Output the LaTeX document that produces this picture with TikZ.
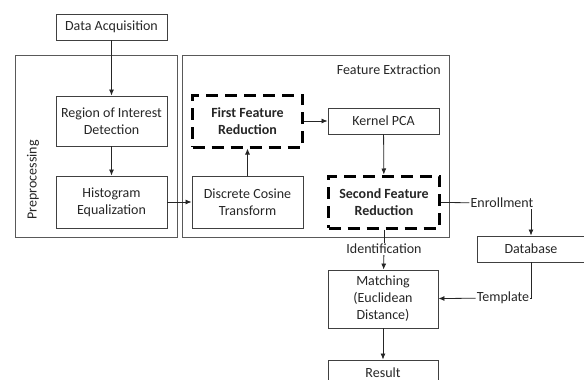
\documentclass[tikz,border=0pt]{standalone}
\usepackage{fontspec}
\setmainfont{Carlito}
\usetikzlibrary{arrows.meta}
\newcommand\colorBox{black!75}
\newcommand\colorFrame{black!65}
\newcommand\colorText{black!85}
\newcommand\diagramFont{\fontsize{14}{17}\selectfont}
\tikzset{
	block/.style={draw=\colorBox, line width=0.9pt, text=\colorText, align=center,
		minimum width=111pt, inner sep=1pt, font=\diagramFont},
	dashblock/.style={block, draw=black, line width=3pt, dash pattern=on 12pt off 7pt,
		font=\diagramFont\bfseries},
	frame/.style={draw=\colorFrame, line width=1pt},
	lbl/.style={text=\colorText, inner sep=1pt, font=\diagramFont},
	arr/.style={draw=black!85, line width=0.8pt, -{Latex[length=6pt,width=5pt]}},
	ln/.style={draw=black!85, line width=0.8pt}
}
\begin{document}
\begin{tikzpicture}[x=1pt,y=-1pt]
		\useasboundingbox (0,0) rectangle (584,380);
		% group frames
		\draw[frame] (15,55) rectangle (177,237);
		\draw[frame] (182,55) rectangle (449,237);
		\node[lbl, rotate=90] (prelabel) at (33,180) {Preprocessing};
		\node[lbl, anchor=east] (felabel) at (442,70) {Feature Extraction};
		
		% blocks
		\node[block, minimum height=26pt] (acq) at (111.5,27) {Data Acquisition};
		\node[block, minimum height=50pt] (roi) at (111.5,121) {Region of Interest\\Detection};
		\node[block, minimum height=52pt] (hist) at (111.5,202) {Histogram\\Equalization};
		\node[block, minimum height=52pt] (dct) at (247.5,202) {Discrete Cosine\\Transform};
		\node[dashblock, minimum height=52pt, minimum width=110pt] (ffr) at (247.5,121) {First Feature\\Reduction};
		\node[block, minimum height=26pt] (kpca) at (383.5,121) {Kernel PCA};
		\node[dashblock, minimum height=52pt] (sfr) at (384,202) {Second Feature\\Reduction};
		\node[block, minimum height=26pt, minimum width=107pt] (db) at (531,249) {Database};
		\node[block, minimum height=58pt, minimum width=110pt] (match) at (383,299) {Matching\\(Euclidean\\Distance)};
		\node[block, minimum height=26pt, minimum width=110pt] (result) at (383,373) {Result};
		
		% labels on connectors
		\node[lbl] (enroll) at (502,203) {Enrollment};
		\node[lbl] (ident) at (384,249) {Identification};
		\node[lbl] (templ) at (503,298) {Template};
		\coordinate (tcorner) at (db.south |- templ.east);
		
		% connectors
		\draw[arr] (acq) -- (roi);
		\draw[arr] (roi) -- (hist);
		\draw[arr] (hist) -- (dct);
		\draw[arr] (dct) -- (ffr);
		\draw[arr] (ffr) -- (kpca);
		\draw[arr] (kpca) -- (sfr);
		\draw[ln] (sfr) -- (enroll);
		\draw[arr] (enroll.south -| db.north) -- (db.north);
		\draw[ln] (sfr) -- (ident);
		\draw[arr] (ident) -- (match);
		\draw[ln] (db.south) -- (tcorner) -- (templ.east);
		\draw[arr] (templ) -- (match);
		\draw[arr] (match) -- (result);
	\end{tikzpicture}
\end{document}
